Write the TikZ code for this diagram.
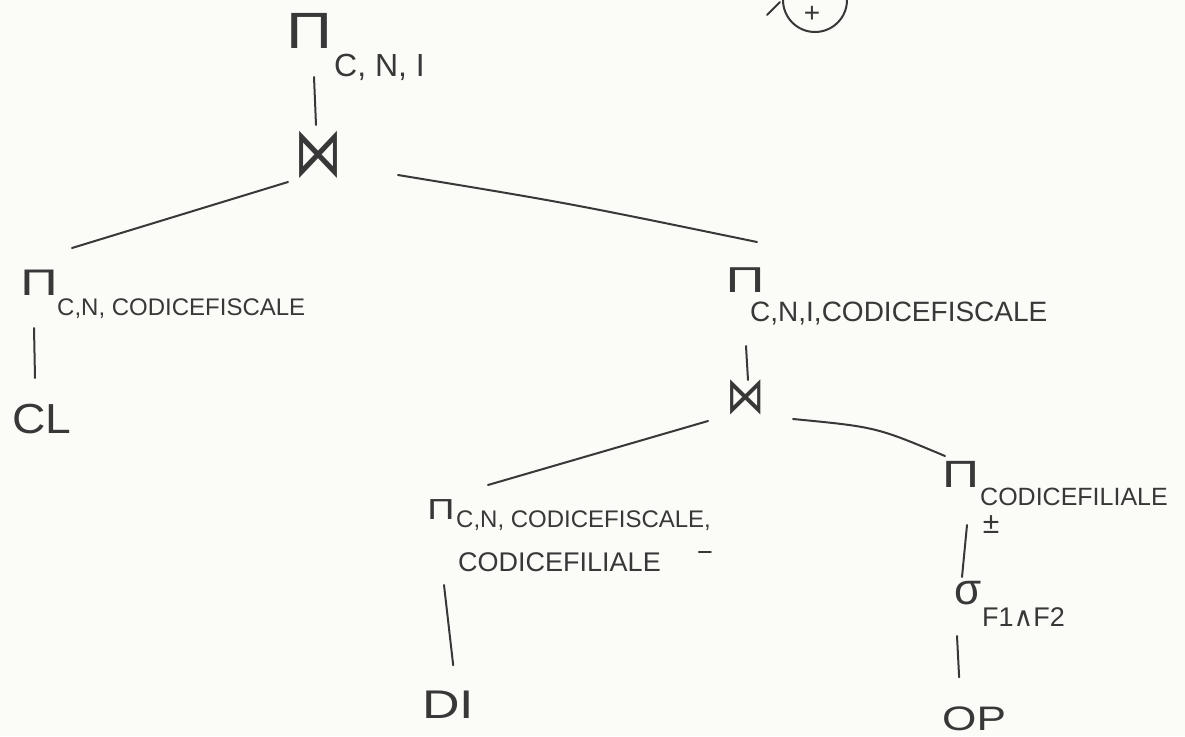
\documentclass[tikz,border=0pt]{standalone}
\usepackage{graphicx}
\usepackage{fontspec}
\setmainfont{Liberation Sans}
\newfontfamily\symfont{DejaVu Sans}
\usetikzlibrary{calc}
\definecolor{ink}{HTML}{383838}
\definecolor{paper}{HTML}{FBFBF8}
\newcommand\fsz[1]{\fontsize{#1}{#1}\selectfont}
\newcommand\stretchx[2]{\scalebox{#1}[1]{#2}}
\tikzset{
  stroke/.style={draw=ink, line width=2pt, line cap=round},
  lbl/.style={text=ink, inner sep=0pt, anchor=base west},
  opsym/.style={text=ink, inner sep=0pt},
}
\begin{document}
\begin{tikzpicture}[x=1pt,y=-1pt]
\fill[paper] (0,0) rectangle (1185,736);
\useasboundingbox (0,0) rectangle (1185,736);

% root projection and first join
\node[opsym, font=\fsz{51}] (p1) at (310,31) {\stretchx{1.25}{Π}};
\node[lbl, font=\fsz{32}] (p1s) at (334,76) {C, N, I};
\node[opsym, font=\symfont\fsz{60}] (j1) at (318,155) {\scalebox{0.8}[1.15]{⋈}};

% left branch
\node[opsym, font=\fsz{37}] (pl) at (39,283) {\stretchx{1.4}{Π}};
\node[lbl, font=\fsz{24}] (pls) at (57,315) {C,N, CODICEFISCALE};
\node[lbl, font=\fsz{42}] (cl) at (12,433) {\stretchx{1.1}{CL}};

% right branch
\node[opsym, font=\fsz{36}] (pr) at (745,280) {\stretchx{1.5}{Π}};
\node[lbl, font=\fsz{28}] (prs) at (750,321) {C,N,I,CODICEFISCALE};
\node[opsym, font=\symfont\fsz{48}] (j2) at (746,397) {\scalebox{0.8}[1.07]{⋈}};

% lower left projection over DI
\node[opsym, font=\fsz{29}] (pbl) at (441,510) {\stretchx{1.3}{Π}};
\node[lbl, font=\fsz{24}] (pbls) at (456,527) {C,N, CODICEFISCALE,};
\node[lbl, font=\fsz{27}] (pbls2) at (458,571) {CODICEFILIALE};
\node[lbl, font=\fsz{40}] (di) at (422,718) {\stretchx{1.3}{DI}};

% lower right projection, selection, OP
\node[opsym, font=\fsz{38}] (pbr) at (961,474) {\stretchx{1.35}{Π}};
\node[lbl, font=\fsz{25}] (pbrs) at (980,505) {CODICEFILIALE};
\node[opsym, font=\fsz{30}] (pm) at (991,525) {±};
\node[opsym, font=\fsz{44}] (sig) at (968,593) {σ};
\node[lbl, font=\fsz{27}] (sigs) at (982,626) {F1{\symfont∧}F2};
\node[lbl, font=\fsz{34}] (op) at (942,730) {\stretchx{1.3}{OP}};

% circled exercise number
\node[draw=ink, line width=2pt, circle, minimum size=64pt, inner sep=0pt] (num) at (815,0) {};
\node[opsym, font=\fsz{28}] (numt) at (812,14) {+};
\draw[stroke] ($(num)+(-48,15)$) -- ($(num)+(-35,2)$);

% edges
\draw[stroke] ($(p1)+(4,46)$) -- ($(j1)+(-2,-30)$);
\draw[stroke] ($(j1)+(-30,27)$) -- ($(pl)+(33,-35)$);
\draw[stroke] ($(j1)+(80,20)$) .. controls ($(j1)+(250,48)$) .. ($(pr)+(12,-38)$);
\draw[stroke] ($(pl)+(-5,45)$) -- ($(pl)+(-4,95)$);
\draw[stroke] ($(pr)+(1,66)$) -- ($(j2)+(2,-17)$);
\draw[stroke] ($(j2)+(-38,24)$) -- ($(pbl)+(47,-25)$);
\draw[stroke] ($(j2)+(47,22)$) .. controls ($(j2)+(130,30)$) .. ($(pbr)+(-16,-18)$);
\draw[stroke] ($(pbl)+(3,75)$) -- ($(di)+(5,-39)$);
\draw[stroke] ($(pbr)+(6,51)$) -- ($(sig)+(-6,-16)$);
\draw[stroke] ($(sig)+(-11,43)$) -- ($(op)+(-15,-41)$);
% stray mark beside CODICEFILIALE
\draw[stroke] ($(pbls2.base east)+(38,-19)$) -- ($(pbls2.base east)+(50,-19)$);
\end{tikzpicture}
\end{document}
